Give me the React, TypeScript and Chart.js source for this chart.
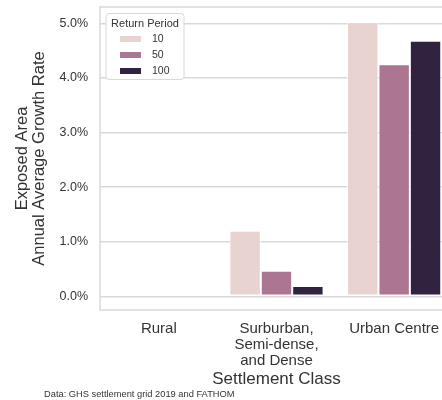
import React, { useEffect, useRef } from 'react';
import { Chart, registerables } from 'chart.js';

Chart.register(...registerables);

const categories: (string | string[])[] = ['Rural', ['Surburban,', 'Semi-dense,', 'and Dense'], 'Urban Centre'];
const returnPeriods = ['10', '50', '100'];
const rp10 = [0.02, 1.2, 5.02];
const rp50 = [0.02, 0.47, 4.25];
const rp100 = [0.02, 0.19, 4.68];
const seriesColors = ['#e8d3d0', '#ac7591', '#2f2340'];
const yTickValues = [0, 1, 2, 3, 4, 5];
const yTitle = ['Exposed Area', 'Annual Average Growth Rate'];
const xTitle = 'Settlement Class';
const legendTitle = 'Return Period';
const sourceNote = 'Data: GHS settlement grid 2019 and FATHOM';

const FONT = '"Liberation Sans", Arial, sans-serif';
const TEXT = '#333333';
const GRID = '#d9d9d9';

const framePlugin = {
  id: 'frame',
  beforeDatasetsDraw(chart: any) {
    const { ctx, chartArea } = chart;
    ctx.save();
    ctx.strokeStyle = GRID;
    ctx.lineWidth = 1.5;
    ctx.strokeRect(chartArea.left, chartArea.top, chartArea.right - chartArea.left, chartArea.bottom - chartArea.top);
    ctx.restore();
  },
};

const legendPlugin = {
  id: 'innerLegend',
  afterDraw(chart: any) {
    const { ctx, chartArea } = chart;
    const x0 = chartArea.left + 6;
    const y0 = chartArea.top + 6.5;
    const w = 78;
    const h = 66;
    ctx.save();
    ctx.beginPath();
    if (ctx.roundRect) ctx.roundRect(x0, y0, w, h, 3);
    else ctx.rect(x0, y0, w, h);
    ctx.fillStyle = 'rgba(255,255,255,0.95)';
    ctx.fill();
    ctx.strokeStyle = '#d9d9d9';
    ctx.lineWidth = 1;
    ctx.stroke();
    ctx.fillStyle = TEXT;
    ctx.font = `11px ${FONT}`;
    ctx.textAlign = 'center';
    ctx.textBaseline = 'middle';
    ctx.fillText(legendTitle, x0 + w / 2, y0 + 10);
    ctx.textAlign = 'left';
    ctx.font = `10.5px ${FONT}`;
    chart.data.datasets.forEach((ds: any, i: number) => {
      const cy = y0 + 25.5 + i * 16;
      ctx.fillStyle = ds.backgroundColor;
      ctx.fillRect(x0 + 14, cy - 3, 21, 6);
      ctx.fillStyle = TEXT;
      ctx.fillText(ds.label, x0 + 46, cy);
    });
    ctx.restore();
  },
};

const notePlugin = {
  id: 'note',
  afterDraw(chart: any) {
    const { ctx } = chart;
    ctx.save();
    ctx.fillStyle = TEXT;
    ctx.font = `9.3px ${FONT}`;
    ctx.textAlign = 'left';
    ctx.textBaseline = 'middle';
    ctx.fillText(sourceNote, 44, 394);
    ctx.restore();
  },
};

export default function App() {
  const ref = useRef<HTMLCanvasElement | null>(null);

  useEffect(() => {
    if (!ref.current) return;
    const series = [rp10, rp50, rp100];
    const chart = new Chart(ref.current, {
      type: 'bar',
      data: {
        labels: categories as any,
        datasets: returnPeriods.map((rp, i) => ({
          label: rp,
          data: series[i],
          backgroundColor: seriesColors[i],
          borderColor: '#ffffff',
          borderWidth: 1,
          borderSkipped: false,
          barPercentage: 1,
          categoryPercentage: 0.8,
        })),
      },
      options: {
        responsive: false,
        animation: false,
        devicePixelRatio: 1,
        layout: { padding: { top: 7, right: 17, left: 0, bottom: 0 } },
        plugins: {
          legend: { display: false },
          tooltip: { enabled: false },
        },
        scales: {
          x: {
            type: 'category',
            grid: { display: false, drawTicks: false },
            border: { display: false },
            ticks: {
              color: TEXT,
              font: { family: FONT, size: 15, lineHeight: 16 / 15 },
              padding: 11,
              maxRotation: 0,
              autoSkip: false,
            },
            title: {
              display: true,
              text: xTitle,
              color: TEXT,
              font: { family: FONT, size: 17, lineHeight: 1.2 },
              padding: { top: 0, bottom: 10 },
            },
            afterFit(scale: any) {
              scale.height = 90;
              scale.paddingLeft = 0;
              scale.paddingRight = 0;
            },
          },
          y: {
            min: -0.25,
            max: 5.3,
            grid: { color: GRID, lineWidth: 1.5, drawTicks: false },
            border: { display: false },
            afterBuildTicks(scale: any) {
              scale.ticks = yTickValues.map((v) => ({ value: v }));
            },
            ticks: {
              color: TEXT,
              font: { family: FONT, size: 12.5 },
              padding: 12,
              callback: (v: any) => `${Number(v).toFixed(1)}%`,
            },
            title: {
              display: true,
              text: yTitle,
              color: TEXT,
              font: { family: FONT, size: 16.5, lineHeight: 1.05 },
              padding: { top: 13.5, bottom: 0 },
            },
            afterFit(scale: any) {
              scale.width = 100;
              scale.paddingTop = 0;
              scale.paddingBottom = 0;
            },
          },
        },
      },
      plugins: [framePlugin, legendPlugin, notePlugin],
    } as any);
    return () => chart.destroy();
  }, []);

  return (
    <div style={{ position: 'fixed', left: 0, top: 0, width: 442, height: 400, overflow: 'hidden', background: '#fff' }}>
      <canvas ref={ref} width={470} height={400} style={{ display: 'block', width: 470, height: 400 }} />
    </div>
  );
}
